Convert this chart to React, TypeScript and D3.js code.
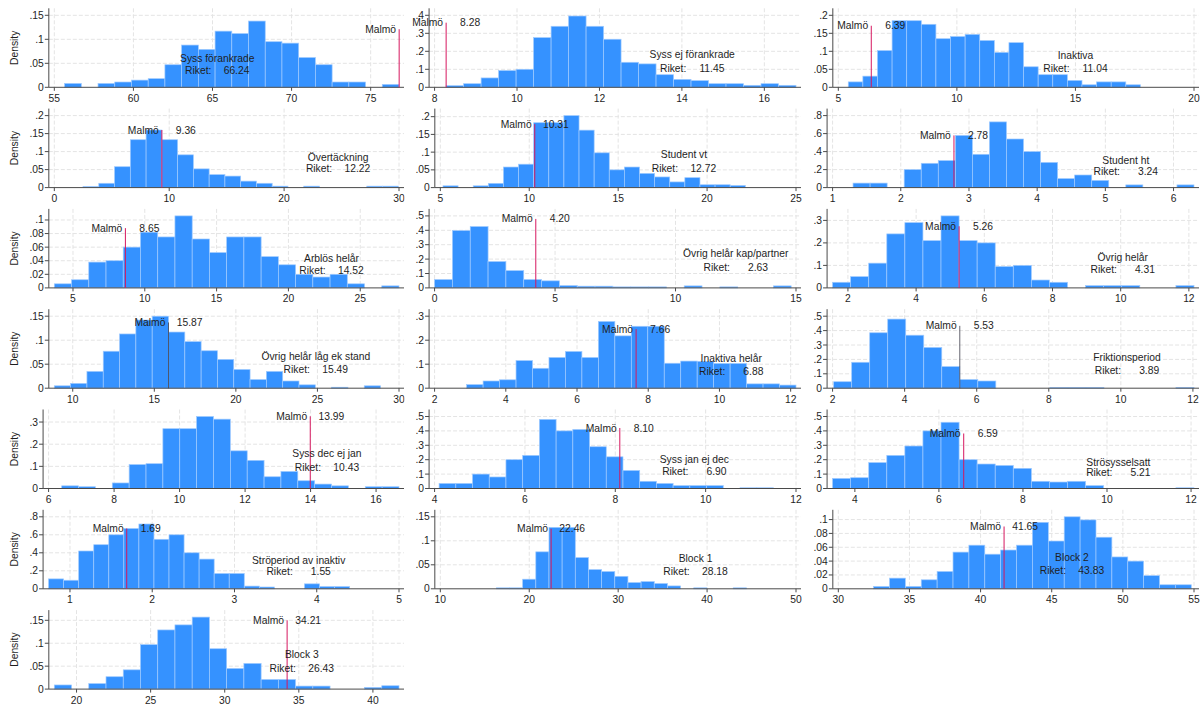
import React from 'react';
import * as d3 from 'd3';

// panel titles, in reading order (3 columns)
const titles = [
  'Syss förankrade', 'Syss ej förankrade', 'Inaktiva',
  'Övertäckning', 'Student vt', 'Student ht',
  'Arblös helår', 'Övrig helår kap/partner', 'Övrig helår',
  'Övrig helår låg ek stand', 'Inaktiva helår', 'Friktionsperiod',
  'Syss dec ej jan', 'Syss jan ej dec', 'Strösysselsatt',
  'Ströperiod av inaktiv', 'Block 1', 'Block 2',
  'Block 3',
];

const riket = [66.24, 11.45, 11.04, 12.22, 12.72, 3.24, 14.52, 2.63, 4.31, 15.49, 6.88, 3.89, 10.43, 6.90, 5.21, 1.55, 28.18, 43.83, 26.43];
const malmo = [76.80, 8.28, 6.39, 9.36, 10.31, 2.78, 8.65, 4.20, 5.26, 15.87, 7.66, 5.53, 13.99, 8.10, 6.59, 1.69, 22.46, 41.65, 34.21];

// histogram bins: first edge and width (20 bins each)
const binStart = [55.65, 8.28, 5.42, 2.5, 5.15, 1.3, 3.7, 0, 1.55, 8.87, 2.9, 2.03, 6.4, 4.1, 3.47, 0.74, 16.3, 32.48, 18.5];
const binWidth = [1.057, 0.4244, 0.616, 1.372, 0.85, 0.25, 1.2, 0.74, 0.53, 1.0, 0.4625, 0.5, 0.515, 0.37, 0.43, 0.183, 1.48, 1.1165, 1.163];

const density: number[][] = [
  [0.008, 0, 0.008, 0.011, 0.015, 0.018, 0.047, 0.088, 0.079, 0.117, 0.112, 0.138, 0.095, 0.092, 0.062, 0.047, 0.011, 0.011, 0, 0.006],
  [0.009, 0.02, 0.052, 0.093, 0.1, 0.276, 0.339, 0.396, 0.339, 0.267, 0.139, 0.13, 0.07, 0.044, 0.037, 0.02, 0.02, 0.011, 0.02, 0.011],
  [0.015, 0.031, 0.102, 0.185, 0.185, 0.175, 0.135, 0.141, 0.147, 0.13, 0.097, 0.124, 0.057, 0.035, 0.035, 0.019, 0.007, 0.015, 0.015, 0.007],
  [0.003, 0.012, 0.058, 0.133, 0.16, 0.133, 0.091, 0.052, 0.036, 0.032, 0.018, 0.012, 0.004, 0, 0.004, 0, 0, 0, 0.004, 0.004],
  [0.005, 0, 0.005, 0.012, 0.058, 0.066, 0.183, 0.183, 0.203, 0.162, 0.098, 0.05, 0.058, 0.04, 0.03, 0.016, 0.028, 0.008, 0.008, 0.006],
  [0.05, 0.05, 0, 0.2, 0.27, 0.3, 0.58, 0.37, 0.73, 0.54, 0.4, 0.28, 0.1, 0.14, 0.08, 0, 0.03, 0, 0, 0.03],
  [0.006, 0.012, 0.038, 0.04, 0.06, 0.082, 0.075, 0.106, 0.072, 0.052, 0.075, 0.075, 0.046, 0.034, 0.02, 0.016, 0.02, 0.006, 0, 0.003],
  [0.058, 0.398, 0.426, 0.183, 0.12, 0.058, 0.049, 0.016, 0.012, 0.012, 0.007, 0.007, 0.007, 0, 0.014, 0, 0.007, 0, 0, 0.014],
  [0.025, 0.05, 0.11, 0.24, 0.29, 0.21, 0.32, 0.21, 0.2, 0.095, 0.1, 0.035, 0.025, 0, 0.01, 0.01, 0.01, 0, 0, 0.01],
  [0.005, 0.01, 0.035, 0.077, 0.113, 0.142, 0.15, 0.117, 0.097, 0.078, 0.06, 0.039, 0.018, 0.035, 0.015, 0.007, 0, 0.002, 0, 0.005],
  [0.015, 0.03, 0.035, 0.115, 0.083, 0.128, 0.153, 0.128, 0.278, 0.218, 0.258, 0.258, 0.104, 0.113, 0.112, 0.103, 0.103, 0.018, 0.018, 0.013],
  [0.045, 0.18, 0.385, 0.48, 0.368, 0.283, 0.15, 0.06, 0.05, 0, 0, 0, 0.005, 0.005, 0.005, 0, 0, 0, 0, 0.005],
  [0.012, 0.008, 0, 0.025, 0.108, 0.112, 0.27, 0.27, 0.325, 0.313, 0.17, 0.127, 0.053, 0.077, 0.035, 0.02, 0.012, 0, 0.008, 0.008],
  [0.035, 0.035, 0.1, 0.08, 0.2, 0.23, 0.48, 0.4, 0.41, 0.29, 0.22, 0.125, 0.05, 0.035, 0.02, 0.02, 0.02, 0, 0.005, 0.005],
  [0.07, 0.075, 0.18, 0.23, 0.295, 0.4, 0.46, 0.2, 0.17, 0.16, 0.14, 0.05, 0.045, 0.05, 0.02, 0, 0, 0, 0, 0.005],
  [0.11, 0.095, 0.42, 0.49, 0.6, 0.67, 0.72, 0.55, 0.6, 0.4, 0.33, 0.17, 0.17, 0.03, 0.02, 0, 0, 0.055, 0.025, 0.025],
  [0.002, 0.002, 0.02, 0.077, 0.128, 0.128, 0.065, 0.04, 0.036, 0.026, 0.013, 0.015, 0.011, 0.006, 0, 0.002, 0, 0, 0.002, 0],
  [0.0034, 0.0154, 0.0034, 0.013, 0.025, 0.053, 0.063, 0.05, 0.056, 0.063, 0.096, 0.069, 0.104, 0.0995, 0.0745, 0.046, 0.04, 0.019, 0.0058, 0.0058],
  [0.009, 0, 0.012, 0.027, 0.042, 0.097, 0.129, 0.14, 0.157, 0.088, 0.045, 0.056, 0.021, 0.021, 0.0066, 0.0066, 0, 0, 0.0037, 0.0073],
];

const xTicks: number[][] = [
  [55, 60, 65, 70, 75], [8, 10, 12, 14, 16], [5, 10, 15, 20],
  [0, 10, 20, 30], [5, 10, 15, 20, 25], [1, 2, 3, 4, 5, 6],
  [5, 10, 15, 20, 25], [0, 5, 10, 15], [2, 4, 6, 8, 10, 12],
  [10, 15, 20, 25, 30], [2, 4, 6, 8, 10, 12], [2, 4, 6, 8, 10, 12],
  [6, 8, 10, 12, 14, 16], [4, 6, 8, 10, 12], [4, 6, 8, 10, 12],
  [1, 2, 3, 4, 5], [10, 20, 30, 40, 50], [30, 35, 40, 45, 50, 55],
  [20, 25, 30, 35, 40],
];

const yTicks: number[][] = [
  [0, 0.05, 0.1, 0.15], [0, 0.1, 0.2, 0.3, 0.4], [0, 0.05, 0.1, 0.15, 0.2],
  [0, 0.05, 0.1, 0.15, 0.2], [0, 0.05, 0.1, 0.15, 0.2], [0, 0.2, 0.4, 0.6, 0.8],
  [0, 0.02, 0.04, 0.06, 0.08, 0.1], [0, 0.1, 0.2, 0.3, 0.4, 0.5], [0, 0.1, 0.2, 0.3],
  [0, 0.05, 0.1, 0.15], [0, 0.1, 0.2, 0.3], [0, 0.1, 0.2, 0.3, 0.4, 0.5],
  [0, 0.1, 0.2, 0.3], [0, 0.1, 0.2, 0.3, 0.4, 0.5], [0, 0.1, 0.2, 0.3, 0.4, 0.5],
  [0, 0.2, 0.4, 0.6, 0.8], [0, 0.05, 0.1, 0.15], [0, 0.02, 0.04, 0.06, 0.08, 0.1],
  [0, 0.05, 0.1, 0.15],
];

// annotation anchors, in data units
const nameX = [65.3, 14.25, 15.0, 24.7, 18.7, 5.3, 23.0, 12.5, 10.06, 24.9, 10.33, 10.17, 14.5, 9.75, 10.27, 3.78, 38.7, 46.42, 35.2];
const nameY = [0.06, 0.18, 0.089, 0.085, 0.092, 0.3, 0.043, 0.236, 0.136, 0.0665, 0.123, 0.213, 0.157, 0.2, 0.178, 0.32, 0.0625, 0.0447, 0.076];
const riketY = [0.036, 0.105, 0.051, 0.053, 0.055, 0.174, 0.025, 0.144, 0.083, 0.04, 0.071, 0.125, 0.095, 0.12, 0.109, 0.19, 0.036, 0.026, 0.045];
const malmoY = [0.121, 0.359, 0.171, 0.16, 0.179, 0.58, 0.088, 0.479, 0.274, 0.137, 0.246, 0.433, 0.326, 0.42, 0.382, 0.67, 0.125, 0.09, 0.15];

const FONT = "'Liberation Sans', Arial, Helvetica, sans-serif";
const FS = 10.3;
const TXT = '#1e1e1e';
const AXIS = '#4a4a4a';
const GRID = '#e4e4e4';
const BAR = '#3592ff';
const BAR_EDGE = '#9fcaff';
const LINE = '#d6175f';
const LINE_DARK = '#3c3c4a';
// panels whose Malmö marker is drawn dark in the original
const darkLine = new Set([9, 11]);

const colLabelLeft = [29.5, 415.5, 813.5];
const colRight = [404, 801, 1199];
const colClip = [[0, 404.5], [404.5, 805], [805, 1204]];
const ROW0 = 87.3;
const ROWSTEP = 100.3;

let ctx: CanvasRenderingContext2D | null = null;
function textWidth(s: string) {
  if (!ctx) {
    ctx = document.createElement('canvas').getContext('2d');
  }
  if (!ctx) return s.length * FS * 0.55;
  ctx.font = `${FS}px ${FONT}`;
  return ctx.measureText(s).width;
}

const fmtY = (v: number) => (v === 0 ? '0' : d3.format('.3~f')(v).replace(/^0/, ''));

function Panel({ i }: { i: number }) {
  const col = i % 3;
  const row = Math.floor(i / 3);
  const base = ROW0 + row * ROWSTEP;
  const top = base - 79;

  const yt = yTicks[i];
  const yLabels = yt.map(fmtY);
  const labW = d3.max(yLabels, (s) => textWidth(s)) || 0;
  const axisX = colLabelLeft[col] + labW + 5;
  const right = colRight[col];

  const n = density[i].length;
  const b0 = binStart[i];
  const b1 = b0 + n * binWidth[i];
  const xt = xTicks[i];
  const xs = d3.scaleLinear()
    .domain([Math.min(xt[0], b0), Math.max(xt[xt.length - 1], b1)])
    .range([axisX + 5.5, right - 5]);
  const ymax = Math.max(yt[yt.length - 1], d3.max(density[i]) || 0);
  const ys = d3.scaleLinear().domain([0, ymax]).range([base, base - 72]);

  const clipId = `clip${i}`;
  const lx = xs(malmo[i]);
  const cx = xs(nameX[i]);

  return (
    <g clipPath={`url(#${clipId})`}>
      <defs>
        <clipPath id={clipId}>
          <rect x={colClip[col][0]} y={top - 10} width={colClip[col][1] - colClip[col][0]} height={110} />
        </clipPath>
      </defs>
      {/* grid */}
      {xt.map((t) => (
        <line key={`gx${t}`} x1={xs(t)} x2={xs(t)} y1={top} y2={base} stroke={GRID} strokeDasharray="4 2" />
      ))}
      {yt.filter((t) => t > 0).map((t) => (
        <line key={`gy${t}`} x1={axisX} x2={right} y1={ys(t)} y2={ys(t)} stroke={GRID} strokeDasharray="4 2" />
      ))}
      {/* bars */}
      {density[i].map((d, k) => {
        if (d <= 0) return null;
        const x0 = xs(b0 + k * binWidth[i]);
        const x1 = xs(b0 + (k + 1) * binWidth[i]);
        return (
          <rect key={k} x={x0} y={ys(d)} width={x1 - x0} height={ys(0) - ys(d)}
            fill={BAR} stroke={BAR_EDGE} strokeWidth={0.7} />
        );
      })}
      {/* axes */}
      <line x1={axisX} x2={axisX} y1={top} y2={base} stroke={AXIS} strokeWidth={1} />
      <line x1={axisX} x2={right} y1={base} y2={base} stroke={AXIS} strokeWidth={1} />
      {yt.map((t, k) => (
        <g key={`yt${t}`}>
          <line x1={axisX - 4} x2={axisX} y1={ys(t)} y2={ys(t)} stroke={AXIS} />
          <text x={axisX - 5} y={ys(t)} textAnchor="end" dominantBaseline="central"
            fontFamily={FONT} fontSize={FS} fill={TXT}>{yLabels[k]}</text>
        </g>
      ))}
      {xt.map((t) => (
        <g key={`xt${t}`}>
          <line x1={xs(t)} x2={xs(t)} y1={base} y2={base + 3.5} stroke={AXIS} />
          <text x={xs(t)} y={base + 14.4} textAnchor="middle"
            fontFamily={FONT} fontSize={FS} fill={TXT}>{t}</text>
        </g>
      ))}
      {col === 0 && (
        <text transform={`translate(14,${base - 39.5}) rotate(-90)`} textAnchor="middle"
          dominantBaseline="central" fontFamily={FONT} fontSize={FS} fill={TXT}>Density</text>
      )}
      {/* Malmö marker */}
      <line x1={lx} x2={lx} y1={ys(0)} y2={ys(malmoY[i])}
        stroke={darkLine.has(i) ? LINE_DARK : LINE} strokeWidth={darkLine.has(i) ? 0.8 : 1} />
      <g fontFamily={FONT} fontSize={FS} fill={TXT} dominantBaseline="central">
        <text x={lx - 34} y={ys(malmoY[i])} textAnchor="start">Malmö</text>
        <text x={lx + 34} y={ys(malmoY[i])} textAnchor="end">{malmo[i].toFixed(2)}</text>
        <text x={cx} y={ys(nameY[i])} textAnchor="middle">{titles[i]}</text>
        <text x={cx - 32.2} y={ys(riketY[i])} textAnchor="start">Riket:</text>
        <text x={cx + 32.2} y={ys(riketY[i])} textAnchor="end">{riket[i].toFixed(2)}</text>
      </g>
    </g>
  );
}

export default function App() {
  return (
    <div>
      <style>{'body{margin:0;background:#fff}'}</style>
      <svg width={1204} height={704} style={{ display: 'block', background: '#fff' }}>
        <rect width={1204} height={704} fill="#fff" />
        {titles.map((_, i) => (
          <Panel key={i} i={i} />
        ))}
      </svg>
    </div>
  );
}
